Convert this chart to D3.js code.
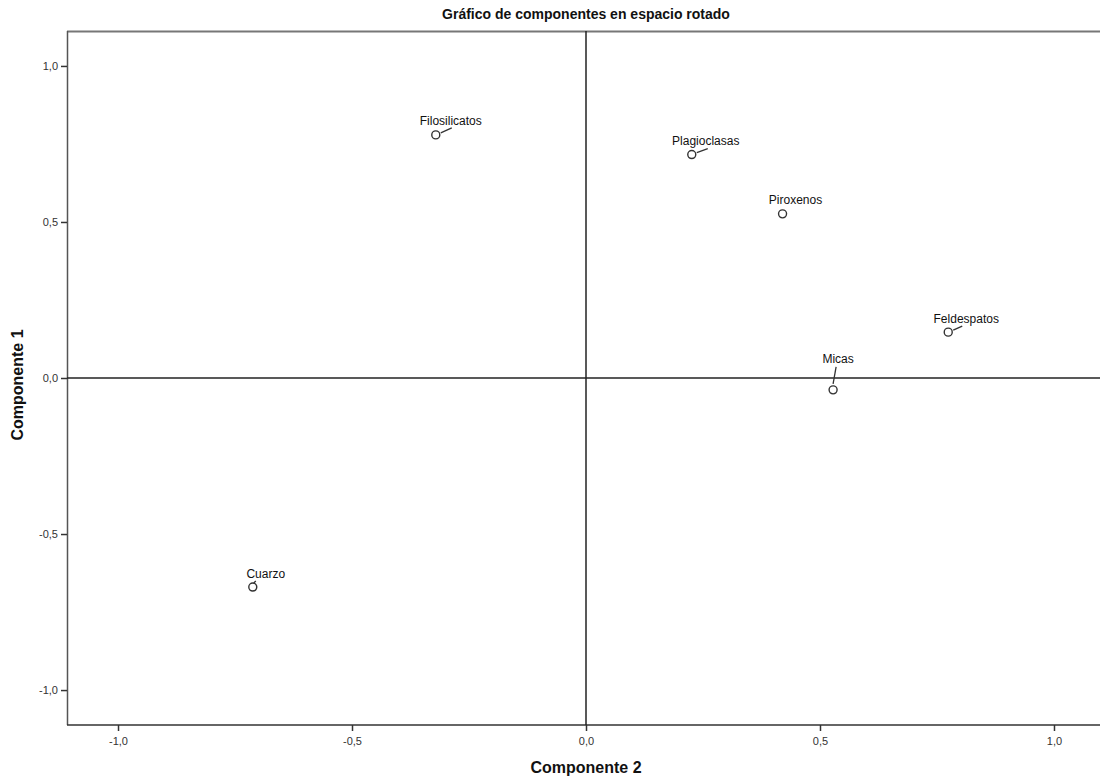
<!DOCTYPE html>
<html>
<head>
<meta charset="utf-8">
<script src="https://cdn.jsdelivr.net/npm/d3@7"></script>
<style>
  html, body { margin: 0; padding: 0; background: #fff; }
  svg { display: block; font-family: "Liberation Sans", Arial, sans-serif; }
</style>
</head>
<body>
<svg id="chart" width="1100" height="778"></svg>
<script>
// ---- data ----
const variables = ["Filosilicatos", "Plagioclasas", "Piroxenos", "Feldespatos", "Micas", "Cuarzo"];
const componente2 = [-0.321, 0.226, 0.420, 0.774, 0.528, -0.712];   // x
const componente1 = [0.779, 0.716, 0.526, 0.147, -0.038, -0.670];   // y
const tickValues = [-1.0, -0.5, 0.0, 0.5, 1.0];
const tickLabels = ["-1,0", "-0,5", "0,0", "0,5", "1,0"];
const titleText = "Gráfico de componentes en espacio rotado";
const xTitle = "Componente 2";
const yTitle = "Componente 1";

// label layout (offsets of label anchor from point, leader line ends)
const labelDx = [15, 14, 13, 18, 5, 13];
const labelDy = [-10, -10, -10, -9, -27, -9];
const leaderFrom = [[5, -2], [5, -2], null, [5, -2], [0, -6], [1, -4]];
const leaderTo = [[16, -7], [16, -6], null, [14, -6], [3, -23], [3, -6]];

const svg = d3.select("#chart");
const plotLeft = 67, plotTop = 31, plotBottom = 725;

const x = d3.scaleLinear().domain([-1.109, 1.109]).range([plotLeft, plotLeft + 1038]);
const y = d3.scaleLinear().domain([-1.112, 1.112]).range([plotBottom, plotTop]);

// frame
svg.append("line").attr("x1", plotLeft).attr("x2", 1100).attr("y1", plotTop + 0.5).attr("y2", plotTop + 0.5)
  .attr("stroke", "#777").attr("stroke-width", 2);
svg.append("line").attr("x1", plotLeft + 0.5).attr("x2", plotLeft + 0.5).attr("y1", plotTop).attr("y2", plotBottom)
  .attr("stroke", "#555").attr("stroke-width", 1.5);

// axes
const xAxis = d3.axisBottom(x).tickValues(tickValues).tickSize(6).tickPadding(6)
  .tickFormat((d, i) => tickLabels[i]);
const gx = svg.append("g").attr("transform", `translate(0,${plotBottom})`).call(xAxis);
gx.select(".domain").attr("stroke", "#333").attr("stroke-width", 1.5).attr("d", `M${plotLeft},0H1100`);
gx.selectAll(".tick line").attr("stroke", "#333").attr("stroke-width", 1.5);
gx.selectAll(".tick text").attr("font-size", 11).attr("fill", "#333")
  .attr("font-family", "Liberation Sans, Arial, sans-serif");

const yAxis = d3.axisLeft(y).tickValues(tickValues).tickSize(6).tickPadding(3)
  .tickFormat((d, i) => tickLabels[i]);
const gy = svg.append("g").attr("transform", `translate(${plotLeft},0)`).call(yAxis);
gy.select(".domain").remove();
gy.selectAll(".tick line").attr("stroke", "#333").attr("stroke-width", 1.5);
gy.selectAll(".tick text").attr("font-size", 11).attr("fill", "#333")
  .attr("font-family", "Liberation Sans, Arial, sans-serif");

// reference lines at 0
svg.append("line").attr("x1", x(0)).attr("x2", x(0)).attr("y1", plotTop).attr("y2", plotBottom)
  .attr("stroke", "#222").attr("stroke-width", 1.5);
svg.append("line").attr("x1", plotLeft).attr("x2", 1100).attr("y1", y(0)).attr("y2", y(0))
  .attr("stroke", "#222").attr("stroke-width", 1.5);

// points
const pts = variables.map((v, i) => ({ name: v, cx: componente2[i], cy: componente1[i], i }));
const g = svg.append("g");
pts.forEach(p => {
  const px = x(p.cx), py = y(p.cy);
  if (leaderFrom[p.i]) {
    g.append("line")
      .attr("x1", px + leaderFrom[p.i][0]).attr("y1", py + leaderFrom[p.i][1])
      .attr("x2", px + leaderTo[p.i][0]).attr("y2", py + leaderTo[p.i][1])
      .attr("stroke", "#333").attr("stroke-width", 1.3);
  }
  g.append("circle").attr("cx", px).attr("cy", py).attr("r", 4)
    .attr("fill", "#fff").attr("stroke", "#333").attr("stroke-width", 1.4);
  g.append("text").attr("x", px + labelDx[p.i]).attr("y", py + labelDy[p.i])
    .attr("text-anchor", "middle").attr("font-size", 12).attr("fill", "#111")
    .text(p.name);
});

// titles
svg.append("text").attr("x", 586).attr("y", 19).attr("text-anchor", "middle")
  .attr("font-size", 14).attr("font-weight", "bold").attr("fill", "#111").text(titleText);
svg.append("text").attr("x", 586).attr("y", 773).attr("text-anchor", "middle")
  .attr("font-size", 16).attr("font-weight", "bold").attr("fill", "#111").text(xTitle);
svg.append("text").attr("transform", `translate(23,385) rotate(-90)`)
  .attr("text-anchor", "middle")
  .attr("font-size", 16).attr("font-weight", "bold").attr("fill", "#111").text(yTitle);
</script>
</body>
</html>
